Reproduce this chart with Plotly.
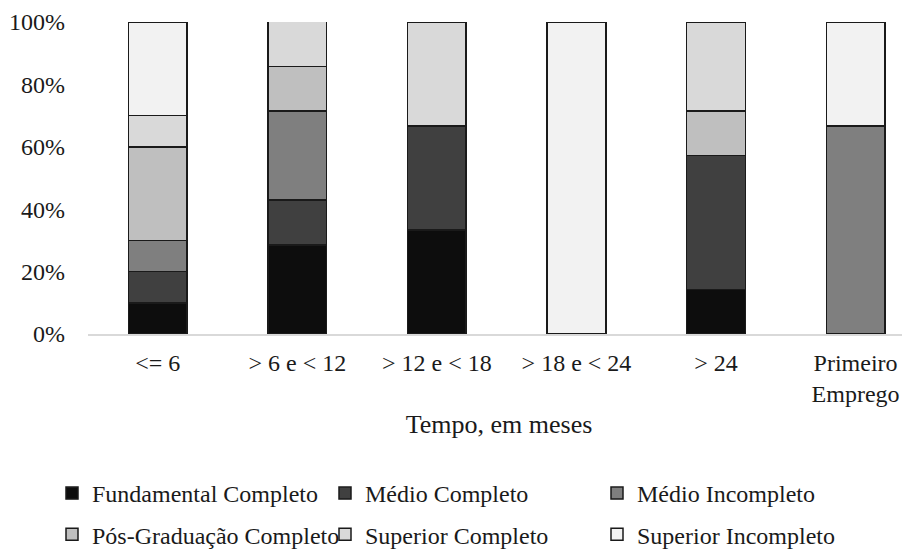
import plotly.graph_objects as go

categories = ["<= 6", "> 6 e < 12", "> 12 e < 18", "> 18 e < 24", "> 24", "Primeiro<br>Emprego"]

fundamental_completo = [10.0, 28.6, 33.3, None, 14.3, None]
medio_completo = [10.0, 14.3, 33.3, None, 42.9, None]
medio_incompleto = [10.0, 28.6, None, None, None, 66.7]
pos_graduacao_completo = [30.0, 14.3, None, None, 14.3, None]
superior_completo = [10.0, 14.3, 33.4, None, 28.5, None]
superior_incompleto = [30.0, None, None, 100.0, None, 33.3]

series_names = ["Fundamental Completo", "Médio Completo", "Médio Incompleto",
                "Pós-Graduação Completo", "Superior Completo", "Superior Incompleto"]
series_values = [fundamental_completo, medio_completo, medio_incompleto,
                 pos_graduacao_completo, superior_completo, superior_incompleto]
series_colors = ["#0d0d0d", "#404040", "#7f7f7f", "#bfbfbf", "#d9d9d9", "#f2f2f2"]
legend_ids = ["legend", "legend2", "legend3", "legend", "legend2", "legend3"]

y_tick_values = [0, 20, 40, 60, 80, 100]
y_tick_labels = ["0%", "20%", "40%", "60%", "80%", "100%"]

FONT = "Liberation Serif, Times New Roman, serif"
TXT = "#1a1a1a"

fig = go.Figure()
for name, vals, col, lg in zip(series_names, series_values, series_colors, legend_ids):
    fig.add_trace(go.Bar(
        x=categories, y=vals, name=name,
        marker=dict(color=col, line=dict(color="#1a1a1a", width=1.5)),
        width=0.42, legend=lg, legendgroup=name,
    ))

# page body has an 8px margin, so the figure is laid out 8px smaller
W, H = 902, 542
ml, mr, mt, mb = 80, 0, 14, 216
pw = W - ml - mr
ph = H - mt - mb
plot_bottom = H - mb

def lx(px):
    return (px - ml) / pw

def ly(px):
    return (plot_bottom - px) / ph

legend_common = dict(
    orientation="v", xanchor="left", yanchor="top", y=ly(463),
    font=dict(family=FONT, size=24, color=TXT), bgcolor="rgba(0,0,0,0)",
    tracegroupgap=7, traceorder="grouped", itemclick=False,
)

fig.update_layout(
    width=W, height=H,
    margin=dict(l=ml, r=mr, t=mt, b=mb, autoexpand=False),
    paper_bgcolor="white", plot_bgcolor="white",
    barmode="stack",
    font=dict(family=FONT, size=24, color=TXT),
    legend=dict(x=lx(44), **legend_common),
    legend2=dict(x=lx(317), **legend_common),
    legend3=dict(x=lx(589), **legend_common),
    showlegend=True,
)

fig.update_xaxes(
    range=[-0.5, 5.39],
    showline=True, linecolor="#d9d9d9", linewidth=1.5,
    showgrid=False, ticks="",
    tickfont=dict(family=FONT, size=24, color=TXT),
    ticklabelstandoff=6,
    title=dict(text="Tempo, em meses", font=dict(family=FONT, size=26, color=TXT), standoff=9),
    fixedrange=True,
)
fig.update_yaxes(
    range=[0, 100], tickmode="array", tickvals=y_tick_values, ticktext=y_tick_labels,
    showline=False, showgrid=False, zeroline=False, ticks="",
    tickfont=dict(family=FONT, size=24, color=TXT),
    ticklabelstandoff=22,
    fixedrange=True,
)

fig.write_html("out.html")
